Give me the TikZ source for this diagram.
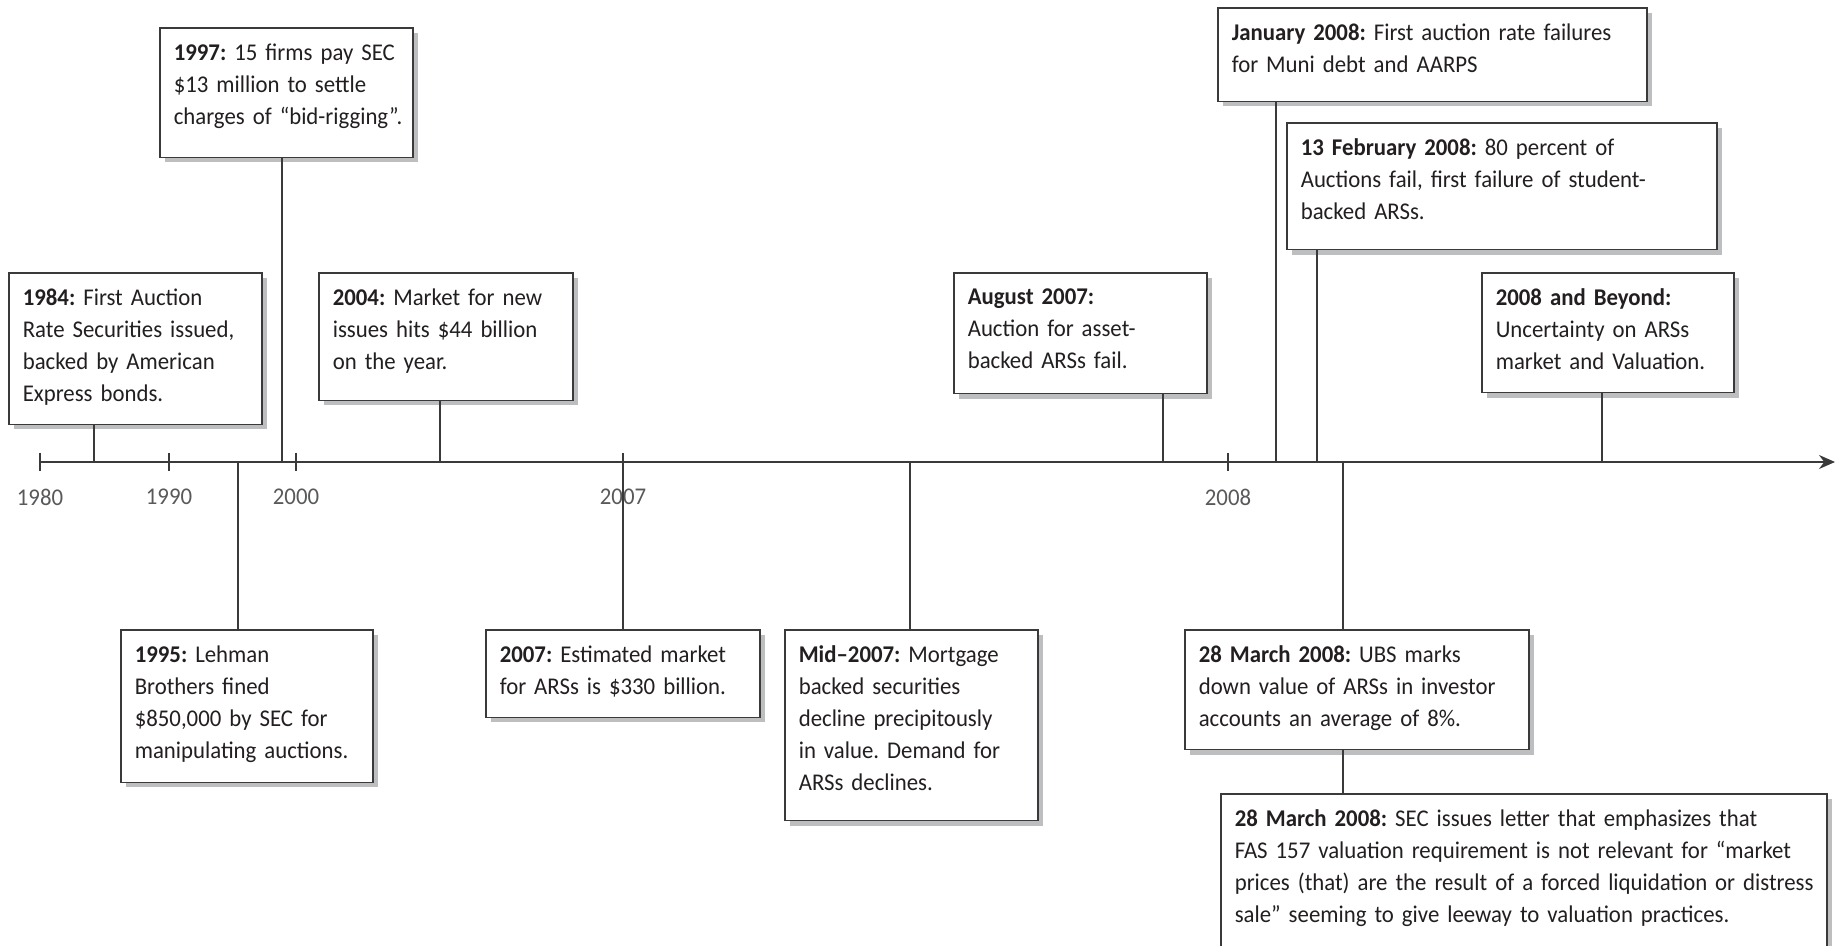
\documentclass[tikz,border=0pt]{standalone}
\usepackage{fontspec}
\setmainfont{Carlito}[FakeStretch=0.95]
\usepackage{tikz}
\usetikzlibrary{arrows.meta, shadows}
\definecolor{inkgray}{HTML}{231F20}
\definecolor{boxline}{HTML}{3A3A3A}
\definecolor{shadowgray}{HTML}{BCBEC0}
\definecolor{yeargray}{HTML}{58595B}
\newcommand\evtfont{\fontsize{12}{16}\selectfont\frenchspacing\hyphenpenalty=10000}
\newcommand\yrfont{\fontsize{12}{14}\selectfont}
% extra space under the last line of a box
\newcommand\evtend[1]{\rule[-\dimexpr 2.5pt+#1\relax]{0pt}{\dimexpr 2.5pt+#1\relax}}

\begin{document}
\begin{tikzpicture}[
  x=0.5pt, y=-0.5pt,
  evt/.style={rectangle, draw=boxline, fill=white, line width=0.8pt,
    drop shadow={shadow xshift=2.5pt, shadow yshift=-2.5pt, fill=shadowgray, opacity=1},
    anchor=north west, inner xsep=7pt, inner ysep=8pt, align=left,
    text width=#1, font=\evtfont, text=inkgray},
  yr/.style={font=\yrfont, text=yeargray, inner sep=0pt},
  yrtick/.style={draw=boxline, line width=0.8pt},
  link/.style={draw=boxline, line width=0.7pt},
  axisline/.style={draw=boxline, line width=0.8pt},
]
  \useasboundingbox (0,0) rectangle (1837,946);
  \clip (0,0) rectangle (1837,946);

  % time axis
  \coordinate (axs) at (40,462);
  \coordinate (axe) at (1835,462);
  \draw[axisline, -{Stealth[length=8pt, width=7pt]}] (axs) -- (axe);

  \draw[yrtick] (40,453) -- (40,471);
  \draw[yrtick] (169,453) -- (169,471);
  \draw[yrtick] (296,453) -- (296,471);
  \draw[yrtick] (623,453) -- (623,471);
  \draw[yrtick] (1228,453) -- (1228,471);
  \node[yr] (y1980) at (40,497) {1980};
  \node[yr] (y1990) at (169,497) {1990};
  \node[yr] (y2000) at (296,497) {2000};
  \node[yr] (y2007) at (623,497) {2007};
  \node[yr] (y2008) at (1228,497) {2008};

  % points on the axis
  \coordinate (p1984) at (94,462);
  \coordinate (p1995) at (238,462);
  \coordinate (p1997) at (282,462);
  \coordinate (p2004) at (440,462);
  \coordinate (p2007) at (623,462);
  \coordinate (pmid) at (910,462);
  \coordinate (paug) at (1163,462);
  \coordinate (pjan) at (1276,462);
  \coordinate (pfeb) at (1317,462);
  \coordinate (pmar) at (1343,462);
  \coordinate (pbey) at (1602,462);

  % events above the axis
  \node[evt=112.5pt] (b1997) at (159,27)
    {\textbf{1997:} 15 firms pay SEC\\ \$13 million to settle\\ \mbox{charges of ``bid-rigging''.}\evtend{6pt}};
  \node[evt=112.5pt] (b1984) at (8,272)
    {\textbf{1984:} First Auction\\ Rate Securities issued,\\ backed by American\\ Express bonds.\evtend{1pt}};
  \node[evt=113pt] (b2004) at (318,272)
    {\textbf{2004:} Market for new\\ issues hits \$44 billion\\ on the year.\evtend{5pt}};
  \node[evt=112.5pt] (baug) at (953,272)
    {\textbf{August 2007:}\\ Auction for asset-\\ backed ARSs fail.\evtend{2pt}};
  \node[evt=200.5pt] (bjan) at (1217,7)
    {\textbf{January 2008:} First auction rate failures\\ for Muni debt and AARPS\evtend{4pt}};
  \node[evt=201pt] (bfeb) at (1286,122)
    {\textbf{13 February 2008:} 80 percent of\\ Auctions fail, first failure of student-\\ backed ARSs.\evtend{4.5pt}};
  \node[evt=112pt] (bbey) at (1481,272)
    {\textbf{2008 and Beyond:}\\ Uncertainty on ARSs\\ market and Valuation.\evtend{1pt}};

  % events below the axis
  \node[evt=112pt] (b1995) at (120,629)
    {\textbf{1995:} Lehman\\ Brothers fined\\ \$850,000 by SEC for\\ manipulating auctions.\evtend{1.5pt}};
  \node[evt=123pt] (b2007) at (485,629)
    {\textbf{2007:} Estimated market\\ for ARSs is \$330 billion.\evtend{1pt}};
  \node[evt=112.5pt] (bmid) at (784,629)
    {\textbf{Mid--2007:} Mortgage\\ backed securities\\ decline precipitously\\ in value. Demand for\\ ARSs declines.\evtend{4.5pt}};
  \node[evt=158pt] (bubs) at (1184,629)
    {\textbf{28 March 2008:} UBS marks\\ \mbox{down value of ARSs in investor}\\ accounts an average of 8\%.\evtend{1pt}};
  \node[evt=289pt] (bsec) at (1220,793)
    {\textbf{28 March 2008:} SEC issues letter that emphasizes that\\ FAS 157 valuation requirement is not relevant for ``market\\ \mbox{prices (that) are the result of a forced liquidation or distress}\\ sale'' seeming to give leeway to valuation practices.\evtend{14pt}};

  % connectors
  \draw[link] (p1984) -- (b1984.south -| p1984);
  \draw[link] (p1997) -- (b1997.south -| p1997);
  \draw[link] (p2004) -- (b2004.south -| p2004);
  \draw[link] (paug) -- (baug.south -| paug);
  \draw[link] (pjan) -- (bjan.south -| pjan);
  \draw[link] (pfeb) -- (bfeb.south -| pfeb);
  \draw[link] (pbey) -- (bbey.south -| pbey);
  \draw[link] (p1995) -- (b1995.north -| p1995);
  \draw[link] (p2007) -- (b2007.north -| p2007);
  \draw[link] (pmid) -- (bmid.north -| pmid);
  \draw[link] (pmar) -- (bubs.north -| pmar);
  \draw[link] (bubs.south -| pmar) -- (bsec.north -| pmar);
\end{tikzpicture}
\end{document}
